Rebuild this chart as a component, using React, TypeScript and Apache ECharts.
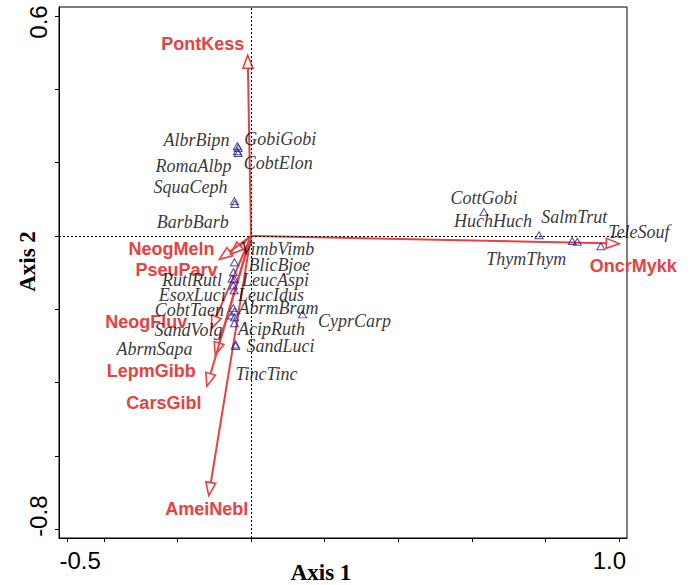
import { useEffect, useRef } from "react";
import * as echarts from "echarts";

// ---- Data ----
const speciesNames = [
  "AlbrBipn", "GobiGobi", "RomaAlbp", "CobtElon", "SquaCeph", "BarbBarb",
  "CottGobi", "HuchHuch", "SalmTrut", "ThymThym", "TeleSouf",
  "VimbVimb", "BlicBjoe", "RutlRutl", "LeucAspi", "EsoxLuci", "LeucIdus",
  "CobtTaen", "AbrmBram", "SandVolg", "AcipRuth", "AbrmSapa", "SandLuci",
  "TincTinc", "CyprCarp",
];
const speciesX = [
  -0.037, -0.035, -0.037, -0.035, -0.045, -0.044,
  0.633, 0.783, 0.873, 0.887, 0.951,
  -0.045, -0.048, -0.052, -0.045, -0.048, -0.046,
  -0.048, -0.045, -0.053, -0.045, -0.045, -0.042,
  -0.042, 0.140,
];
const speciesY = [
  0.245, 0.240, 0.231, 0.226, 0.095, 0.087,
  0.065, 0.002, -0.014, -0.016, -0.028,
  -0.072, -0.099, -0.116, -0.118, -0.135, -0.148,
  -0.197, -0.206, -0.217, -0.222, -0.238, -0.296,
  -0.300, -0.214,
];

const envNames = [
  "PontKess", "OncrMykk", "NeogMeln", "PseuParv",
  "NeogFluv", "LepmGibb", "CarsGibl", "AmeiNebl",
];
const envX = [-0.009, 1.001, -0.086, -0.056, -0.108, -0.097, -0.120, -0.115];
const envY = [0.493, -0.021, -0.064, -0.050, -0.253, -0.326, -0.410, -0.708];

const xTickValues = [-0.5, -0.4, -0.2, 0, 0.2, 0.4, 0.6, 0.8, 1.0];
const xLabelValues = [-0.5, 1.0];
const yTickValues = [-0.8, -0.6, -0.4, -0.2, 0, 0.2, 0.4, 0.6];
const yLabelValues = [-0.8, 0.6];

// ---- Label placement (pixel offsets from the marks) ----
const speciesLabelOffsets: Record<string, [number, number]> = {
  AlbrBipn: [-41, -6], GobiGobi: [42, -9], RomaAlbp: [-44, 15], CobtElon: [40, 10],
  SquaCeph: [-44, -14], BarbBarb: [-42, 18],
  CottGobi: [0, -14], HuchHuch: [-46, -14], SalmTrut: [2, -24], ThymThym: [-51, 17],
  TeleSouf: [38, -14],
  VimbVimb: [43, -13], BlicBjoe: [46, -7], RutlRutl: [-40, 2], LeucAspi: [41, 1],
  EsoxLuci: [-41, 10], LeucIdus: [37, 5], CobtTaen: [-44, 2], AbrmBram: [44, -3],
  SandVolg: [-43, 15], AcipRuth: [37, 12], AbrmSapa: [-80, 26], SandLuci: [45, 2],
  TincTinc: [31, 28], CyprCarp: [52, 7],
};
const envLabelOffsets: Record<string, [number, number]> = {
  PontKess: [-45, -11], OncrMykk: [14, 22], NeogMeln: [-48, -10], PseuParv: [-54, 16],
  NeogFluv: [-65, -7], LepmGibb: [-64, 16], CarsGibl: [-43, 17], AmeiNebl: [-2, 14],
};

const RED = "#e8413f";
const BLUE = "#20209a";
const SANS = '"Liberation Sans", Arial, sans-serif';
const SERIF = '"Liberation Serif", "Times New Roman", serif';

export default function App() {
  const ref = useRef<HTMLDivElement>(null);

  useEffect(() => {
    if (!ref.current) return;
    const chart = echarts.init(ref.current, null, { renderer: "svg" });

    const option: any = {
      animation: false,
      backgroundColor: "#fff",
      grid: {
        left: 59, top: 7, width: 568, height: 531,
        containLabel: false,
        outerBoundsMode: "none",
        show: true, borderColor: "#000", borderWidth: 1,
        backgroundColor: "transparent",
      },
      xAxis: {
        type: "value",
        min: -0.522,
        max: 1.022,
        splitLine: { show: false },
        axisLine: { show: true, onZero: false, lineStyle: { color: "#000", width: 1 } },
        axisTick: { show: true, customValues: xTickValues, length: 4, lineStyle: { color: "#000" } },
        axisLabel: {
          customValues: xLabelValues,
          margin: 10,
          color: "#000",
          fontSize: 24,
          fontFamily: SANS,
          formatter: (v: number) => (v < 0 ? `{l|${v.toFixed(1)}}` : `{r|${v.toFixed(1)}}`),
          rich: {
            l: { fontSize: 24, fontFamily: SANS, color: "#000", padding: [0, 0, 0, 26] },
            r: { fontSize: 24, fontFamily: SANS, color: "#000", padding: [0, 19, 0, 0] },
          },
        },
        name: "Axis 1",
        nameLocation: "middle",
        nameGap: 23,
        nameMoveOverlap: false,
        nameTextStyle: {
          fontFamily: SERIF, fontWeight: "bold", fontSize: 23, color: "#000",
          padding: [0, 44, 0, 0],
        },
      },
      yAxis: {
        type: "value",
        min: -0.824,
        max: 0.6245,
        splitLine: { show: false },
        axisLine: { show: true, onZero: false, lineStyle: { color: "#000", width: 1 } },
        axisTick: { show: true, customValues: yTickValues, length: 4, lineStyle: { color: "#000" } },
        axisLabel: {
          customValues: yLabelValues,
          rotate: 90,
          margin: 9,
          color: "#000",
          fontSize: 24,
          fontFamily: SANS,
          formatter: (v: number) => (v < 0 ? `{l|${v.toFixed(1)}}` : `{r|${v.toFixed(1)}}`),
          rich: {
            l: { fontSize: 24, fontFamily: SANS, color: "#000", padding: [0, 0, 0, 26] },
            r: { fontSize: 24, fontFamily: SANS, color: "#000", padding: [0, 12, 0, 0] },
          },
        },
        name: "Axis 2",
        nameLocation: "middle",
        nameRotate: 90,
        nameGap: 20,
        nameMoveOverlap: false,
        nameTextStyle: {
          fontFamily: SERIF, fontWeight: "bold", fontSize: 23, color: "#000",
          padding: [0, 0, 0, 22],
        },
      },
      series: [
        {
          type: "line",
          data: [],
          z: 1,
          markLine: {
            silent: true,
            symbol: "none",
            label: { show: false },
            lineStyle: { color: "#000", type: [2, 2], width: 1 },
            data: [{ xAxis: 0 }, { yAxis: 0 }],
          },
        },
        {
          type: "custom",
          z: 2,
          data: envNames.map((_, i) => [envX[i], envY[i]]),
          encode: { x: 0, y: 1 },
          renderItem: (params: any, api: any) => {
            const x = api.value(0);
            const y = api.value(1);
            const o = api.coord([0, 0]);
            const p = api.coord([x, y]);
            const dx = p[0] - o[0];
            const dy = p[1] - o[1];
            const len = Math.hypot(dx, dy) || 1;
            const ux = dx / len;
            const uy = dy / len;
            const L = 13;
            const W = 5;
            const bx = p[0] - ux * L;
            const by = p[1] - uy * L;
            const nx = -uy;
            const ny = ux;
            const name = envNames[params.dataIndex];
            const off = envLabelOffsets[name] || [0, 0];
            return {
              type: "group",
              children: [
                {
                  type: "line",
                  shape: { x1: o[0], y1: o[1], x2: bx, y2: by },
                  style: { stroke: RED, lineWidth: 2 },
                },
                {
                  type: "polygon",
                  shape: { points: [[p[0], p[1]], [bx + nx * W, by + ny * W], [bx - nx * W, by - ny * W]] },
                  style: { fill: "rgba(255,255,255,0)", stroke: RED, lineWidth: 1.6 },
                },
                {
                  type: "text",
                  x: p[0] + off[0],
                  y: p[1] + off[1],
                  style: {
                    text: name,
                    fill: RED,
                    font: `bold 18px ${SANS}`,
                    align: "center",
                    verticalAlign: "middle",
                  },
                },
              ],
            };
          },
        },
        {
          type: "scatter",
          z: 3,
          symbol: "triangle",
          symbolSize: [8, 7],
          itemStyle: { color: "rgba(255,255,255,0)", borderColor: BLUE, borderWidth: 1 },
          label: {
            show: true,
            position: "inside",
            formatter: "{b}",
            color: "#000",
            fontFamily: SERIF,
            fontStyle: "italic",
            fontSize: 18,
          },
          data: speciesNames.map((n, i) => ({
            name: n,
            value: [speciesX[i], speciesY[i]],
            label: { offset: speciesLabelOffsets[n] || [0, 0] },
          })),
        },
      ],
    };

    chart.setOption(option);
    return () => chart.dispose();
  }, []);

  return (
    <div
      ref={ref}
      style={{ position: "fixed", left: 0, top: 0, width: 696, height: 585, background: "#fff" }}
    />
  );
}
